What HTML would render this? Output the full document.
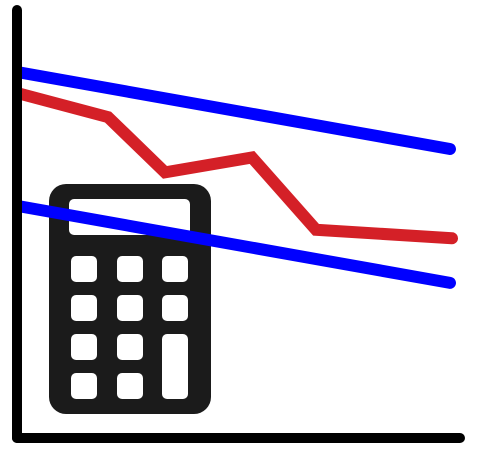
<!DOCTYPE html>
<html><head><meta charset="utf-8"><style>html,body{margin:0;padding:0;background:#fff}svg{display:block}</style></head>
<body>
<svg id="chart" width="478" height="460" viewBox="0 0 478 460" xmlns="http://www.w3.org/2000/svg">
<g>
<rect x="49" y="184" width="162" height="230" rx="17" fill="#1b1b1b"/>
<rect x="69" y="199" width="121" height="36" rx="5" fill="#fff"/>
<g id="keys" fill="#fff"></g>
</g>
<g id="series"></g>
<line x1="17" y1="10" x2="17" y2="438" stroke="#000" stroke-width="10" stroke-linecap="round"/>
<line x1="17" y1="438" x2="460" y2="438" stroke="#000" stroke-width="10" stroke-linecap="round"/>
</svg>
<script>
const xPositionsIdx = [0, 1, 2, 3, 4, 5];
const redValues = [81, 75.5, 62.5, 66, 49, 47];
const blueUpperValues = [86, 68];
const blueLowerValues = [54.5, 36.5];
const xScale = i => 20 + i * 86.4;
const yScale = v => 438 - v * 4.25;
const NS = 'http://www.w3.org/2000/svg';
const series = document.getElementById('series');
function poly(vals, xs, color, name) {
  const p = document.createElementNS(NS, 'polyline');
  p.setAttribute('points', vals.map((v, i) => xs(i) + ',' + yScale(v)).join(' '));
  p.setAttribute('fill', 'none');
  p.setAttribute('stroke', color);
  p.setAttribute('stroke-width', '12');
  p.setAttribute('stroke-linecap', 'round');
  p.setAttribute('stroke-linejoin', 'miter');
  
  
  series.appendChild(p);
}
const redX = [20, 108, 165, 252, 316, 452];
poly(redValues, i => redX[i], '#d42027', 'red-series-line');
poly(blueUpperValues, i => 20 + i * 430, '#0000ff', 'blue-upper-line');
poly(blueLowerValues, i => 20 + i * 430, '#0000ff', 'blue-lower-line');
const keys = document.getElementById('keys');
const cols = [71, 117, 162], rows = [256, 295, 334, 373];
rows.forEach((y, r) => cols.forEach((x, c) => {
  if (c === 2 && r === 3) return;
  const k = document.createElementNS(NS, 'rect');
  k.setAttribute('x', x); k.setAttribute('y', y);
  k.setAttribute('width', 26);
  k.setAttribute('height', (c === 2 && r === 2) ? 65 : 26);
  k.setAttribute('rx', 5);
  
  
  keys.appendChild(k);
}));
</script>
</body></html>
